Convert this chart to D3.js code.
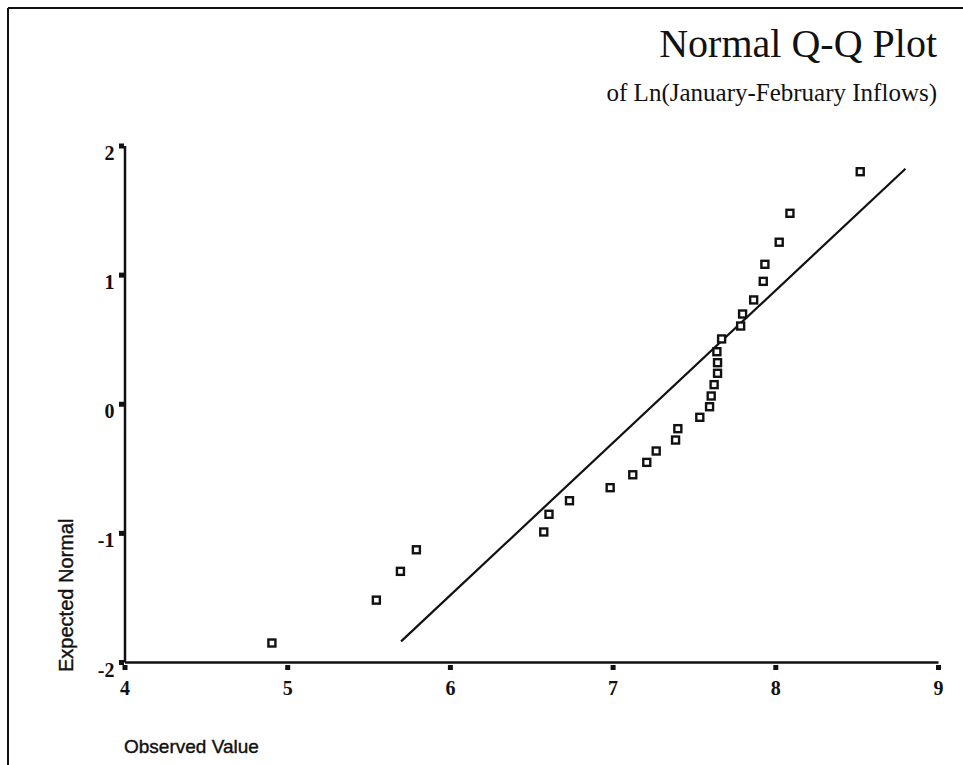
<!DOCTYPE html>
<html>
  <head>
    <meta charset="utf-8">
    <title>Normal Q-Q Plot</title>
    <script src="https://d3js.org/d3.v7.min.js"></script>
    <style>
      body { margin: 0; background: #fff; }
      #chart { display: block; }
      .tickLabel { font-family: "Liberation Serif", "Times New Roman", serif; font-weight: bold; font-size: 20px; fill: #111; }
      .axisTitle { font-family: "Liberation Sans", Arial, sans-serif; font-size: 19px; fill: #111; stroke: #111; stroke-width: 0.4px; }
    </style>
  </head>
  <body>
    <svg id="chart" width="963" height="765"></svg>
    <script>
      // data
      xTicks = [4, 5, 6, 7, 8, 9];
      yTicks = [-2, -1, 0, 1, 2];
      observed = [4.906, 5.548, 5.696, 5.794, 6.577, 6.609, 6.735, 6.985, 7.124, 7.210,
                  7.268, 7.387, 7.401, 7.536, 7.596, 7.606, 7.624, 7.645, 7.645, 7.641,
                  7.670, 7.787, 7.799, 7.867, 7.926, 7.936, 8.024, 8.090, 8.522];
      expected = [-1.853, -1.521, -1.298, -1.131, -0.993, -0.856, -0.751, -0.650, -0.550, -0.454,
                  -0.366, -0.281, -0.193, -0.105, -0.023, 0.060, 0.148, 0.236, 0.318, 0.403,
                  0.502, 0.602, 0.695, 0.804, 0.948, 1.080, 1.251, 1.475, 1.797];
      fitObserved = [5.70, 8.80];
      fitExpected = [-1.84, 1.82];

      chart = d3.select("#chart");
      margin = { top: 145.5, right: 25, bottom: 103, left: 124.5 };
      width = 963;
      height = 765;

      x = d3.scaleLinear()
        .domain([4, 9])
        .range([margin.left, width - margin.right]);
      y = d3.scaleLinear()
        .domain([-2, 2])
        .range([height - margin.bottom, margin.top]);

      // page frame
      chart.append("line")
        .attr("x1", 8).attr("x2", width)
        .attr("y1", 8).attr("y2", 8)
        .attr("stroke", "#111").attr("stroke-width", 2);
      chart.append("line")
        .attr("x1", 8).attr("x2", 8)
        .attr("y1", 8).attr("y2", height)
        .attr("stroke", "#111").attr("stroke-width", 2);

      // titles
      chart.append("text")
        .attr("x", 937).attr("y", 57)
        .attr("text-anchor", "end")
        .style("font-family", "'Liberation Serif', 'Times New Roman', serif")
        .style("font-size", "40px")
        .attr("fill", "#111")
        .text("Normal Q-Q Plot");
      chart.append("text")
        .attr("x", 937).attr("y", 101)
        .attr("text-anchor", "end")
        .style("font-family", "'Liberation Serif', 'Times New Roman', serif")
        .style("font-size", "25px")
        .attr("fill", "#111")
        .text("of Ln(January-February Inflows)");

      // axes
      xAxis = d3.axisBottom(x)
        .tickValues(xTicks)
        .tickFormat(function(d) { return String(d); })
        .tickSize(0)
        .tickPadding(0);
      yAxis = d3.axisLeft(y)
        .tickValues(yTicks)
        .tickFormat(function(d) { return String(d); })
        .tickSize(0)
        .tickPadding(0);

      xAxisGroup = chart.append("g")
        .attr("transform", "translate(0," + y(-2) + ")")
        .call(xAxis);
      yAxisGroup = chart.append("g")
        .attr("transform", "translate(" + x(4) + ",0)")
        .call(yAxis);

      [xAxisGroup, yAxisGroup].forEach(function(g) {
        g.select(".domain")
          .attr("stroke", "#111")
          .attr("stroke-width", 2.5);
        g.selectAll(".tick line").remove();
        g.selectAll(".tick text")
          .attr("class", "tickLabel");
        g.attr("font-family", null).attr("font-size", null);
      });

      xAxisGroup.selectAll(".tick text")
        .attr("y", 33)
        .attr("dy", null);
      xAxisGroup.selectAll(".tick")
        .append("rect")
          .attr("x", -2.5).attr("y", 3)
          .attr("width", 5).attr("height", 5)
          .attr("fill", "#111");

      yAxisGroup.selectAll(".tick text")
        .attr("x", -10)
        .attr("dy", "0.7em");
      yAxisGroup.selectAll(".tick")
        .append("rect")
          .attr("x", -5.5).attr("y", -2.5)
          .attr("width", 5).attr("height", 5)
          .attr("fill", "#111");

      // axis titles
      chart.append("text")
        .attr("class", "axisTitle")
        .attr("transform", "translate(73,672) rotate(-90)")
        .style("font-size", "20px")
        .text("Expected Normal");
      chart.append("text")
        .attr("class", "axisTitle")
        .attr("x", 124).attr("y", 753)
        .text("Observed Value");

      // fit line
      fitData = fitObserved.map(function(d, i) { return { o: d, e: fitExpected[i] }; });
      line = d3.line()
        .x(function(d) { return x(d.o); })
        .y(function(d) { return y(d.e); });
      chart.append("path")
        .attr("d", line(fitData))
        .attr("fill", "none")
        .attr("stroke", "#111")
        .attr("stroke-width", 2.2);

      // points
      pointData = observed.map(function(d, i) { return { o: d, e: expected[i] }; });
      chart.append("g")
        .selectAll("rect")
        .data(pointData)
        .enter().append("rect")
          .attr("x", function(d) { return x(d.o) - 3.5; })
          .attr("y", function(d) { return y(d.e) - 3.5; })
          .attr("width", 7)
          .attr("height", 7)
          .attr("fill", "#fff")
          .attr("stroke", "#111")
          .attr("stroke-width", 2.4);
    </script>
  </body>
</html>
